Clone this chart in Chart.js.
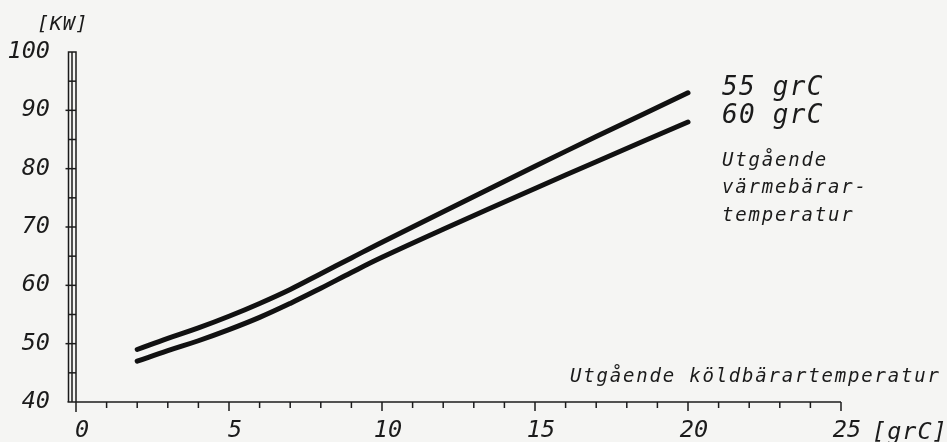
<!DOCTYPE html>
<html>
<head>
<meta charset="utf-8">
<script src="https://cdn.jsdelivr.net/npm/chart.js@4/dist/chart.umd.min.js"></script>
<style>
  html, body { margin: 0; padding: 0; background: #f5f5f3; }
  #wrap { width: 947px; height: 442px; }
</style>
</head>
<body>
<div id="wrap"><canvas id="c" width="947" height="442"></canvas></div>
<script>
// Outgoing brine temperature [grC] along the x axis
const brineTemp = [2, 3, 4, 5, 6, 7, 8, 9, 10, 12, 15, 17, 20];
// Heating capacity [KW] for two outgoing heat-carrier temperatures
const capacity55 = [49.0, 50.9, 52.7, 54.7, 56.9, 59.3, 62.0, 64.7, 67.4, 72.6, 80.4, 85.5, 93.0];
const capacity60 = [47.0, 48.8, 50.5, 52.4, 54.5, 56.9, 59.5, 62.2, 64.8, 69.6, 76.6, 81.2, 88.0];
const seriesNames = ['55 grC', '60 grC'];

const xTickLabels = [0, 5, 10, 15, 20, 25];
const yTickLabels = [40, 50, 60, 70, 80, 90, 100];
const yUnit = '[KW]';
const xUnit = '[grC]';
const xTitle = 'Utgående köldbärartemperatur';
const legendTitle = ['Utgående', 'värmebärar-', 'temperatur'];

const INK = '#1b1b1b';
const MONO = "'DejaVu Sans Mono', 'Liberation Mono', monospace";

function pts(ys) { return brineTemp.map((x, i) => ({ x, y: ys[i] })); }

function txt(ctx, s, x, y, size, spacing, align, baseline) {
  ctx.save();
  ctx.font = 'italic ' + size + 'px ' + MONO;
  ctx.fillStyle = INK;
  ctx.letterSpacing = spacing + 'px';
  ctx.textAlign = align || 'left';
  ctx.textBaseline = baseline || 'alphabetic';
  ctx.fillText(s, x, y);
  ctx.restore();
}

const plotterAxes = {
  id: 'plotterAxes',
  beforeDatasetsDraw(chart) {
    const ctx = chart.ctx;
    const xs = chart.scales.x, ys = chart.scales.y;
    const x0 = xs.getPixelForValue(0), x25 = xs.getPixelForValue(25);
    const yTop = ys.getPixelForValue(100), yBot = ys.getPixelForValue(40);
    ctx.save();
    ctx.strokeStyle = INK;
    ctx.lineWidth = 1.5;
    // y axis drawn as a narrow ruled bar
    const barL = x0 - 7.5, barM = x0 - 4;
    ctx.beginPath();
    ctx.moveTo(barL, yBot); ctx.lineTo(barL, yTop);
    ctx.lineTo(x0, yTop); ctx.lineTo(x0, yBot + 10);
    ctx.moveTo(barM, yBot); ctx.lineTo(barM, yTop);
    ctx.stroke();
    for (let v = 45; v < 100; v += 5) {
      const y = ys.getPixelForValue(v);
      ctx.beginPath();
      ctx.moveTo(v % 10 === 0 ? barL - 3 : barL, y);
      ctx.lineTo(x0, y);
      ctx.stroke();
    }
    // x axis with unit ticks hanging below
    ctx.beginPath();
    ctx.moveTo(barL - 1, yBot); ctx.lineTo(x25, yBot);
    ctx.stroke();
    for (let v = 1; v <= 25; v++) {
      const x = xs.getPixelForValue(v);
      ctx.beginPath();
      ctx.moveTo(x, yBot);
      ctx.lineTo(x, yBot + (v % 5 === 0 ? 9 : 6));
      ctx.stroke();
    }
    ctx.restore();
  },
  afterDraw(chart) {
    const xs = chart.scales.x, ys = chart.scales.y;
    const ctx = chart.ctx;
    yTickLabels.forEach(v => txt(ctx, String(v), 50, ys.getPixelForValue(v), 23.5, 0, 'right', 'middle'));
    xTickLabels.forEach(v => txt(ctx, String(v), xs.getPixelForValue(v) + 6, 431, 23.5, 0, 'center', 'middle'));
    txt(ctx, xUnit, 872, 439, 23.5, 1, 'left');
    txt(ctx, yUnit, 37, 30, 20, 0.8, 'left');
    txt(ctx, xTitle, 570, 382, 19, 1.8, 'left');
    txt(ctx, seriesNames[0], 722, 95, 26, 1.3, 'left');
    txt(ctx, seriesNames[1], 722, 123, 26, 1.3, 'left');
    [166, 193, 221].forEach((y, i) => txt(ctx, legendTitle[i], 722, y, 19, 1.8, 'left'));
  }
};

new Chart(document.getElementById('c'), {
  type: 'line',
  data: {
    datasets: [
      { label: seriesNames[0], data: pts(capacity55) },
      { label: seriesNames[1], data: pts(capacity60) }
    ].map(d => Object.assign(d, {
      borderColor: '#111',
      borderWidth: 5,
      borderCapStyle: 'round',
      pointRadius: 0,
      fill: false,
      tension: 0.4
    }))
  },
  options: {
    responsive: false,
    animation: false,
    layout: { padding: { left: 76, right: 106, top: 52, bottom: 40 } },
    plugins: { legend: { display: false }, tooltip: { enabled: false } },
    scales: {
      x: { type: 'linear', min: 0, max: 25, display: false },
      y: { type: 'linear', min: 40, max: 100, display: false }
    }
  },
  plugins: [plotterAxes]
});
</script>
</body>
</html>
